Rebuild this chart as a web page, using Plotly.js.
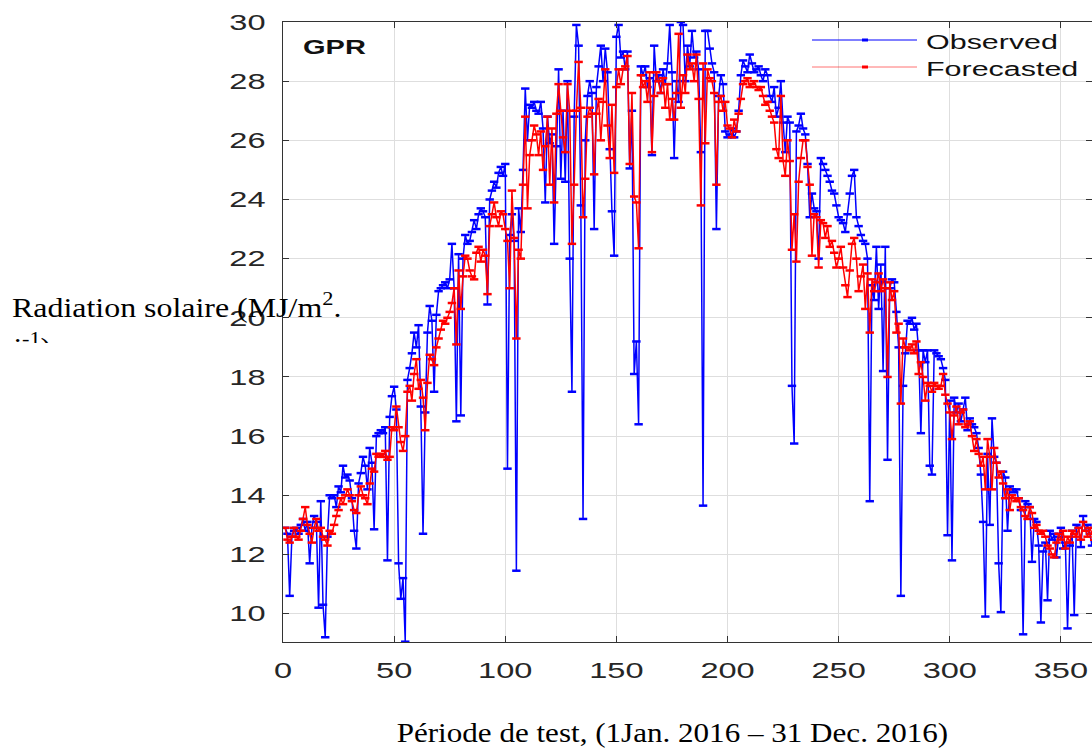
<!DOCTYPE html>
<html>
<head>
<meta charset="utf-8">
<script src="https://cdn.plot.ly/plotly-3.0.1.min.js"></script>
<style>
  html, body { margin: 0; padding: 0; background: #ffffff; }
  #chart { width: 1092px; height: 749px; }
</style>
</head>
<body>
<div id="chart"></div>
<script>
// Daily global solar radiation, 2016 test year (MJ/m2 per day)
const observed = [
  12.9, 12.7, 10.6, 12.6, 12.8, 12.9, 12.7, 13.0, 13.2, 12.8,
  13.1, 11.7, 12.9, 13.3, 13.1, 10.2, 13.8, 10.3, 9.2, 12.6,
  14.0, 13.9, 14.0, 13.6, 14.3, 14.1, 15.0, 14.6, 14.7, 14.5,
  13.9, 12.8, 12.2, 14.4, 14.75, 15.3, 15.0, 14.2, 15.6, 15.1,
  12.85, 16.0, 16.1, 16.2, 16.1, 16.3, 11.8, 16.65, 17.35, 17.67,
  16.9, 11.7, 10.5, 11.2, 9.05, 17.9, 18.3, 18.8, 19.5, 19.0,
  19.75, 17.0, 12.7, 16.8, 19.5, 20.4, 19.9, 17.5, 20.1, 20.9,
  21.0, 21.1, 21.2, 21.0, 21.3, 22.5, 21.0, 16.5, 22.15, 16.7,
  22.0, 22.8, 22.5, 22.6, 22.9, 23.3, 23.0, 23.5, 23.7, 23.6,
  23.4, 20.45, 24.0, 24.3, 24.6, 24.4, 24.9, 25.1, 24.8, 25.2,
  14.9, 22.8, 23.5, 22.6, 11.45, 23.7, 22.9, 25.0, 27.75, 26.0,
  27.2, 27.1, 27.3, 27.0, 26.9, 27.3, 26.4, 23.9, 26.8, 25.9,
  26.2, 22.5, 25.8, 28.4, 24.7, 27.0, 24.6, 28.0, 22.0, 17.5,
  26.8, 29.9, 29.2, 23.8, 13.2, 26.0, 27.5, 28.0, 27.6, 23.0,
  27.8, 28.5, 29.2, 28.0, 29.1, 28.3, 25.7, 23.6, 22.1, 29.5,
  29.9, 28.8, 29.0, 28.4, 29.0, 25.05, 27.0, 18.1, 19.2, 16.4,
  28.5, 28.2, 28.5, 27.8, 28.1, 25.5, 29.2, 28.0, 28.2, 27.6,
  28.4, 27.9, 28.6, 29.9, 28.3, 25.4, 28.0, 27.3, 30.0, 29.9,
  28.0, 29.2, 28.5, 29.7, 28.8, 29.0, 28.4, 25.6, 13.65, 29.7,
  29.7, 29.1, 28.6, 28.3, 23.0, 27.5, 28.2, 27.9, 26.3, 26.1,
  26.2, 26.4, 26.1, 26.3, 27.0, 28.2, 28.7, 28.5, 28.3, 28.9,
  28.6, 28.3, 28.4, 28.5, 28.2, 28.0, 28.4, 28.2, 27.5, 27.3,
  27.8, 26.8, 27.1, 28.0, 26.6, 25.6, 26.8, 26.6, 17.7, 15.75,
  26.3, 26.5, 26.9, 26.4, 26.2, 25.2, 23.4, 24.2, 23.7, 23.6,
  22.0, 25.4, 25.2, 25.0, 24.8, 24.6, 24.3, 24.2, 23.8, 23.4,
  23.3, 23.2, 22.9, 23.5, 24.2, 24.8, 25.0, 23.4, 23.1, 22.8,
  22.6, 22.5, 22.0, 13.8, 21.1, 20.6, 22.4, 20.3, 21.8, 18.2,
  22.4, 15.2, 21.0, 21.3, 21.2, 20.2, 19.0, 10.6, 17.7, 18.8,
  19.9, 19.8, 20.0, 19.6, 19.8, 18.9, 16.1, 18.9, 18.5, 18.9,
  15.0, 14.7, 18.9, 18.8, 18.7, 18.6, 18.3, 17.9, 12.65, 17.2,
  11.8, 17.3, 16.8, 17.1, 16.5, 16.9, 17.3, 16.2, 16.6, 16.4,
  16.3, 16.1, 15.6, 14.7, 13.1, 9.9, 15.4, 13.0, 16.6, 15.3,
  15.1, 11.7, 10.05, 14.8, 14.6, 12.8, 14.3, 14.2, 14.1, 14.2,
  13.9, 13.5, 9.3, 13.8, 13.7, 13.6, 11.75, 13.2, 13.1, 12.3,
  9.7, 12.1, 12.4, 10.45, 12.8, 12.5, 12.7, 11.9, 12.6, 12.9,
  12.2, 12.4, 9.5, 12.3, 12.8, 9.95, 13.0, 12.9, 12.25, 13.3,
  12.8, 13.0, 12.7, 12.3, 12.9, 12.6
];

const forecasted = [
  12.9, 12.5, 12.4, 12.6, 12.9, 12.6, 12.5, 12.8, 13.2, 13.6,
  13.0, 12.7, 12.4, 12.9, 13.2, 12.8, 12.9, 12.6, 12.5, 12.3,
  12.8, 12.7, 13.0, 13.3, 13.5, 13.9, 13.7, 14.0, 14.2, 14.0,
  13.8, 13.5, 13.4, 14.0, 14.3, 14.0, 13.9, 13.7, 14.4, 14.9,
  14.8, 15.4, 15.3, 15.4, 15.3, 15.5, 15.2, 15.3, 16.3, 16.2,
  17.0, 16.3, 15.8, 15.5, 16.0, 17.5, 17.7, 17.2, 18.1, 18.6,
  17.6, 17.9, 17.3, 16.2, 17.8, 18.75, 18.6, 18.4, 19.0, 19.3,
  19.6, 19.9, 19.8, 20.0, 20.2, 20.5, 21.0, 19.1, 21.6, 20.3,
  21.4, 22.1, 22.0, 21.6, 21.4, 21.3, 22.2, 22.4, 21.9, 22.3,
  22.1, 20.8, 23.1, 23.5, 23.9, 23.4, 23.1, 23.6, 23.5, 23.0,
  22.6, 21.0, 24.3, 22.7, 19.3, 22.3, 22.0, 24.5, 26.8, 23.7,
  25.5, 26.0, 26.5, 26.2, 25.5, 26.3, 25.0, 25.8, 26.8, 24.5,
  26.4, 23.9, 26.9, 27.9, 27.0, 26.1, 25.6, 27.9, 27.0, 22.5,
  24.5, 27.0, 28.65, 27.1, 23.4, 24.7, 26.8, 27.1, 26.9, 24.85,
  26.9, 27.4, 26.0, 27.3, 28.4, 26.5, 25.4, 27.2, 24.9, 27.8,
  28.4, 27.9, 28.4, 28.5, 28.85, 25.2, 27.6, 24.1, 23.9, 22.35,
  28.2, 27.8, 28.0, 27.3, 28.3, 25.6, 27.5, 28.3, 28.0, 27.6,
  28.1, 27.1, 27.9, 26.7, 27.4, 26.7, 27.6, 29.6, 27.1, 28.2,
  27.6, 28.9, 28.4, 28.6, 28.0, 28.9, 27.4, 23.8, 28.6, 25.9,
  28.4, 28.1, 28.0, 27.6, 24.5, 27.3, 27.5, 27.0, 27.3, 26.5,
  26.4, 26.1, 26.7, 26.3, 26.9, 27.4, 27.9, 28.0, 28.1, 27.8,
  27.9, 28.0, 27.8, 27.7, 27.8, 27.5, 27.2, 27.3, 27.0, 26.8,
  26.6, 25.7, 25.4, 27.5, 25.3, 24.8, 26.0, 25.3, 22.3, 23.5,
  21.9, 24.6, 25.4, 26.0, 26.0, 25.1, 24.5, 22.1, 23.5, 23.4,
  21.7, 23.3, 23.2, 22.7, 23.1, 22.4, 22.6, 22.2, 21.7, 22.0,
  22.4, 21.7, 21.1, 20.7, 21.6, 22.5, 22.7, 22.0, 20.9, 21.4,
  21.8, 20.3, 21.5, 19.5, 21.3, 20.9, 21.2, 21.5, 20.9, 21.3,
  21.0, 18.0, 21.2, 20.6, 20.9, 19.5, 19.8, 17.1, 19.3, 19.0,
  19.0, 18.9, 19.1, 18.8, 19.2, 18.1, 18.5, 18.0, 17.2, 17.8,
  17.7, 17.5, 17.8, 17.7, 17.6, 17.7, 18.1, 17.4, 17.1, 16.8,
  15.9, 16.7, 17.0, 16.4, 16.8, 16.9, 16.3, 16.4, 16.5, 16.0,
  15.5, 15.9, 15.4, 15.0, 15.3, 14.2, 15.9, 15.3, 14.2, 15.6,
  15.1, 14.6, 14.8, 14.4, 13.9, 14.2, 13.5, 14.0, 13.9, 13.8,
  13.9, 13.6, 13.5, 13.3, 13.2, 13.6, 13.4, 12.9, 13.0, 12.8,
  12.7, 12.8, 12.6, 12.3, 12.2, 12.0, 11.9, 12.4, 12.7, 12.5,
  12.8, 12.2, 12.6, 12.4, 12.8, 12.7, 12.6, 12.9, 12.5, 13.1,
  12.8, 12.6, 12.9, 12.7, 12.5, 12.7
];

const seriesNames = ['Observed', 'Forecasted'];
const seriesColors = ['#0000ff', '#ff0000'];
const xTickValues = [0, 50, 100, 150, 200, 250, 300, 350];
const yTickValues = [10, 12, 14, 16, 18, 20, 22, 24, 26, 28, 30];
const panelLabel = 'GPR';
const xTitleText = 'Période de test, (1Jan. 2016 – 31 Dec. 2016)';
const yTitleLine1 = 'Radiation solaire (MJ/m<sup>2</sup>.';
const yTitleLine2 = 'j<sup>-1</sup>)';

// Day index of the year, starting at 1
const day = observed.map((_, i) => i + 1);

// Plot-area geometry (pixels) used to place legend and labels
const PLOT_L = 283, PLOT_T = 22, PLOT_W = 809, PLOT_H = 620;
const px2x = p => (p - PLOT_L) / PLOT_W;
const px2y = p => (PLOT_T + PLOT_H - p) / PLOT_H;

const AXIS_COLOR = '#333333';
const GRID_COLOR = '#dedede';
const SANS = '"Liberation Sans", Arial, sans-serif';
const SERIF = '"Liberation Serif", "Times New Roman", serif';

function seriesTrace(values, idx) {
  return {
    x: day,
    y: values,
    type: 'scatter',
    mode: 'lines+markers',
    name: seriesNames[idx],
    line: { color: seriesColors[idx], width: 1.5 },
    marker: {
      symbol: 'line-ew',
      size: 6,
      color: seriesColors[idx],
      line: { color: seriesColors[idx], width: 2.5 }
    },
    showlegend: false,
    hoverinfo: 'x+y'
  };
}

const traces = [seriesTrace(observed, 0), seriesTrace(forecasted, 1)];

const axisCommon = {
  showline: true,
  linecolor: AXIS_COLOR,
  linewidth: 1.2,
  mirror: 'ticks',
  ticks: 'inside',
  ticklen: 6,
  tickwidth: 1.2,
  tickcolor: AXIS_COLOR,
  showgrid: true,
  gridcolor: GRID_COLOR,
  gridwidth: 1,
  zeroline: false,
  tickfont: { family: SANS, size: 22, color: '#262626' }
};

// Legend drawn as line samples with a centre marker
const legendRows = [
  { name: seriesNames[0], color: seriesColors[0], y: 40, opacity: 1 },
  { name: seriesNames[1], color: seriesColors[1], y: 67, opacity: 0.55 }
];
const shapes = [];
const annotations = [];
legendRows.forEach(r => {
  shapes.push({
    type: 'line', xref: 'paper', yref: 'paper', layer: 'above',
    x0: px2x(812), x1: px2x(917), y0: px2y(r.y), y1: px2y(r.y),
    line: { color: r.color, width: 1 }, opacity: r.opacity
  });
  shapes.push({
    type: 'rect', xref: 'paper', yref: 'paper', layer: 'above',
    x0: px2x(862), x1: px2x(868), y0: px2y(r.y + 1.5), y1: px2y(r.y - 1.5),
    line: { width: 0 }, fillcolor: r.color
  });
  annotations.push({
    xref: 'paper', yref: 'paper', x: px2x(924), y: px2y(r.y + 1),
    xanchor: 'left', yanchor: 'middle', showarrow: false,
    text: r.name, font: { family: SANS, size: 21, color: '#111111' }
  });
});

// Panel label
annotations.push({
  xref: 'paper', yref: 'paper', x: px2x(301), y: px2y(46.5),
  xanchor: 'left', yanchor: 'middle', showarrow: false,
  text: '<b>' + panelLabel + '</b>', font: { family: SANS, size: 20, color: '#111111' }
});
// Axis titles
annotations.push({
  xref: 'paper', yref: 'paper', x: px2x(672), y: px2y(732),
  xanchor: 'center', yanchor: 'middle', showarrow: false,
  text: xTitleText, font: { family: SERIF, size: 28, color: '#000000' }
});
annotations.push({
  xref: 'paper', yref: 'paper', x: px2x(10), y: px2y(306),
  xanchor: 'left', yanchor: 'middle', showarrow: false,
  text: yTitleLine1, font: { family: SERIF, size: 28, color: '#000000' }
});
annotations.push({
  xref: 'paper', yref: 'paper', x: px2x(10), y: px2y(345),
  xanchor: 'left', yanchor: 'middle', showarrow: false,
  text: yTitleLine2, font: { family: SERIF, size: 28, color: '#000000' }
});

const layout = {
  width: 1092,
  height: 749,
  margin: { l: PLOT_L, r: 1092 - PLOT_L - PLOT_W, t: PLOT_T, b: 749 - PLOT_T - PLOT_H, pad: 0 },
  paper_bgcolor: '#ffffff',
  plot_bgcolor: '#ffffff',
  showlegend: false,
  xaxis: Object.assign({}, axisCommon, {
    range: [0, 364],
    tickvals: xTickValues,
    ticktext: xTickValues.map(String),
    ticklabelstandoff: 9
  }),
  yaxis: Object.assign({}, axisCommon, {
    range: [9.04, 30],
    tickvals: yTickValues,
    ticktext: yTickValues.map(String),
    ticklabelstandoff: 12
  }),
  shapes: shapes,
  annotations: annotations
};

// Widen text horizontally around a chosen anchor
function stretchText(el, factor, anchor) {
  const bb = el.getBBox();
  const ax = anchor === 'left' ? bb.x : anchor === 'right' ? bb.x + bb.width : bb.x + bb.width / 2;
  const t = el.getAttribute('transform') || '';
  el.setAttribute('transform',
    t + ' translate(' + ax + ',0) scale(' + factor + ',1) translate(' + (-ax) + ',0)');
}

Plotly.newPlot('chart', traces, layout, { displayModeBar: false, responsive: false }).then(gd => {
  gd.querySelectorAll('.xtick text').forEach(el => stretchText(el, 1.48, 'center'));
  gd.querySelectorAll('.ytick text').forEach(el => stretchText(el, 1.48, 'right'));
  const annEls = gd.querySelectorAll('.annotation');
  const nAnn = annotations.length;
  annEls.forEach(g => {
    const idx = +g.getAttribute('data-index');
    const txt = g.querySelector('.annotation-text');
    if (!txt) return;
    if (idx < nAnn - 3) stretchText(txt, 1.45, 'left');          // legend + panel label
    else if (idx === nAnn - 3) stretchText(txt, 1.11, 'center'); // x title
    else stretchText(txt, 1.14, 'left');                         // y title lines
  });
  // The second y-title line sits in a clipped text frame
  const last = gd.querySelector('.annotation[data-index="' + (nAnn - 1) + '"]');
  if (last) {
    const svg = last.ownerSVGElement;
    const ns = 'http://www.w3.org/2000/svg';
    let defs = svg.querySelector('defs');
    if (!defs) { defs = document.createElementNS(ns, 'defs'); svg.insertBefore(defs, svg.firstChild); }
    const cp = document.createElementNS(ns, 'clipPath');
    cp.setAttribute('id', 'ytitle-frame');
    cp.setAttribute('clipPathUnits', 'userSpaceOnUse');
    const r = document.createElementNS(ns, 'rect');
    r.setAttribute('x', 0); r.setAttribute('y', 0);
    r.setAttribute('width', 400); r.setAttribute('height', 343);
    cp.appendChild(r);
    defs.appendChild(cp);
    last.setAttribute('clip-path', 'url(#ytitle-frame)');
  }
});
</script>
</body>
</html>
